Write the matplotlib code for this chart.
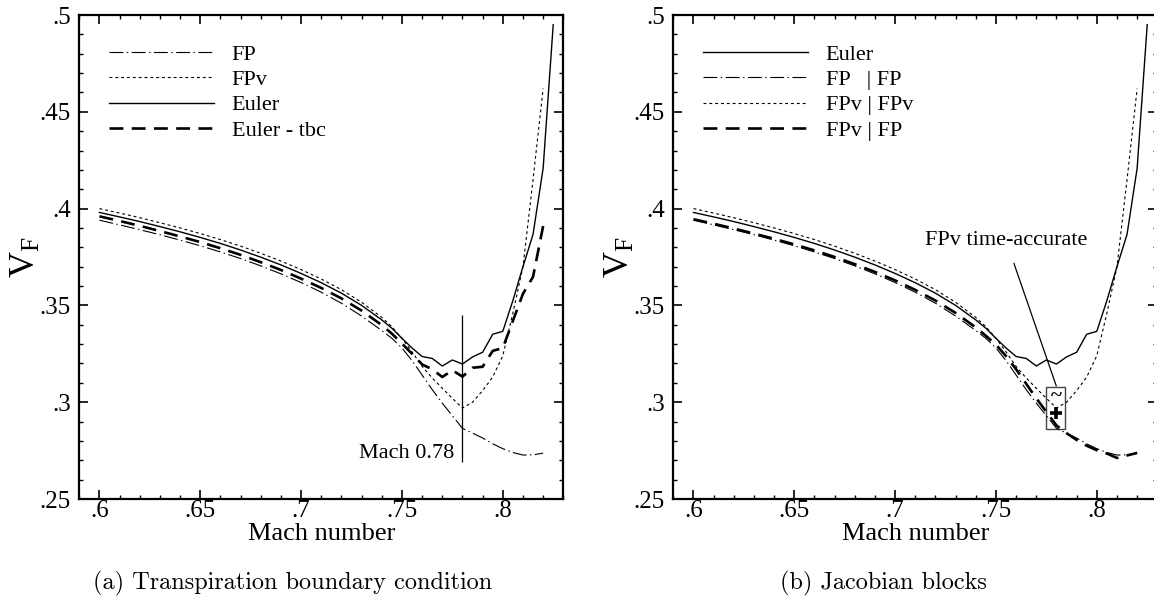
import numpy as np
import matplotlib
matplotlib.use('Agg')
import matplotlib.pyplot as plt
from matplotlib.ticker import FixedLocator, MultipleLocator
from matplotlib.patches import Rectangle

plt.rcParams['font.family'] = ['Liberation Serif', 'DejaVu Serif']
plt.rcParams['mathtext.fontset'] = 'custom'
plt.rcParams['mathtext.rm'] = 'Liberation Serif'
plt.rcParams['mathtext.it'] = 'Liberation Serif:italic'
plt.rcParams['lines.scale_dashes'] = False

nan = np.nan
mach = [0.60, 0.61, 0.62, 0.63, 0.64, 0.65, 0.66, 0.67, 0.68, 0.69, 0.70,
        0.71, 0.72, 0.73, 0.74, 0.745, 0.75, 0.755, 0.76, 0.765, 0.77,
        0.775, 0.78, 0.785, 0.79, 0.795, 0.80, 0.805, 0.81, 0.815, 0.82, 0.825]

euler = [0.3980, 0.3957, 0.3933, 0.3907, 0.3880, 0.3851, 0.3820, 0.3786, 0.3749,
         0.3709, 0.3665, 0.3617, 0.3563, 0.3500, 0.3425, 0.3382, 0.3330, 0.3280,
         0.3236, 0.3226, 0.3187, 0.3218, 0.3197, 0.3234, 0.3258, 0.3351, 0.3366,
         0.3525, 0.3700, 0.3867, 0.4208, 0.4950]

euler_tbc = [0.3960, 0.3936, 0.3911, 0.3884, 0.3856, 0.3827, 0.3795, 0.3761, 0.3723,
             0.3683, 0.3638, 0.3590, 0.3536, 0.3473, 0.3398, 0.3354, 0.3303, 0.3250,
             0.3195, 0.3170, 0.3130, 0.3165, 0.3132, 0.3178, 0.3183, 0.3265, 0.3280,
             0.3420, 0.3560, 0.3648, 0.3910, nan]

fpv = [0.4000, 0.3977, 0.3953, 0.3927, 0.3900, 0.3871, 0.3840, 0.3806, 0.3769,
       0.3729, 0.3685, 0.3636, 0.3581, 0.3516, 0.3438, 0.3390, 0.3330, 0.3260,
       0.3185, 0.3125, 0.3072, 0.3020, 0.2970, 0.3000, 0.3060, 0.3130, 0.3240,
       0.3460, 0.3700, 0.4150, 0.4620, nan]

fp = [0.3940, 0.3916, 0.3891, 0.3865, 0.3837, 0.3808, 0.3776, 0.3742, 0.3704,
      0.3663, 0.3618, 0.3568, 0.3511, 0.3445, 0.3370, 0.3330, 0.3280, 0.3215,
      0.3140, 0.3065, 0.2995, 0.2930, 0.2865, 0.2840, 0.2815, 0.2785, 0.2760,
      0.2740, 0.2727, 0.2728, 0.2737, nan]

fpv_fp = [0.3945, 0.3922, 0.3897, 0.3871, 0.3844, 0.3815, 0.3784, 0.3750, 0.3713,
          0.3673, 0.3629, 0.3580, 0.3525, 0.3461, 0.3386, 0.3343, 0.3297, 0.3238,
          0.3170, 0.3095, 0.3020, 0.2950, 0.2880, 0.2840, 0.2805, 0.2775, 0.2752,
          0.2735, 0.2712, 0.2725, 0.2738, nan]

x_ticks = [0.6, 0.65, 0.7, 0.75, 0.8]
x_tick_labels = ['.6', '.65', '.7', '.75', '.8']
y_ticks = [0.25, 0.3, 0.35, 0.4, 0.45, 0.5]
y_tick_labels = ['.25', '.3', '.35', '.4', '.45', '.5']

mark_mach = 0.78
mark_range = [0.269, 0.345]
ta_mach = 0.78
ta_plus = 0.2943
ta_tilde = 0.3025

ST_FP = dict(color='black', lw=0.8, ls=(0, (10, 2.5, 1, 2.5)))
ST_FPV = dict(color='black', lw=0.8, ls=(0, (2.1, 2.1)))
ST_EU = dict(color='black', lw=1.0, ls='-')
ST_TBC = dict(color='black', lw=1.9, ls=(0, (10, 6)))

W, H = 1154, 597
fig = plt.figure(figsize=(W / 100, H / 100), dpi=100)
axA = fig.add_axes([79.3 / W, 98 / H, 484 / W, 484 / H])
axB = fig.add_axes([673.3 / W, 98 / H, 484 / W, 484 / H])


def style(ax):
    ax.set_xlim(0.59, 0.83)
    ax.set_ylim(0.25, 0.5)
    ax.xaxis.set_major_locator(FixedLocator(x_ticks))
    ax.set_xticklabels(x_tick_labels)
    ax.yaxis.set_major_locator(FixedLocator(y_ticks))
    ax.set_yticklabels(y_tick_labels)
    ax.xaxis.set_minor_locator(MultipleLocator(0.01))
    ax.yaxis.set_minor_locator(MultipleLocator(0.01))
    ax.tick_params(which='both', direction='in', top=True, right=True,
                   labelsize=18, width=1.2)
    ax.tick_params(which='major', length=6.5)
    ax.tick_params(which='minor', length=3.2, width=1.0)
    ax.tick_params(axis='x', pad=1)
    ax.tick_params(axis='y', pad=6)
    for s in ax.spines.values():
        s.set_linewidth(1.6)
    ax.set_xlabel('Mach number', fontsize=19)
    ax.xaxis.set_label_coords(0.5, -0.073)
    ax.xaxis.label.set_va('center')
    ax.set_ylabel(r'$\mathrm{V}_{\mathrm{F}}$', fontsize=26)
    ax.yaxis.set_label_coords(-0.11, 0.5)
    ax.yaxis.label.set_va('center')


def legend(ax):
    ax.legend(loc='upper left', bbox_to_anchor=(0.062, 0.94), frameon=False,
              fontsize=16, handlelength=4.7, handletextpad=0.8,
              labelspacing=0.22, borderpad=0, borderaxespad=0)


# Panel (a)
axA.plot(mach, fp, label='FP', **ST_FP)
axA.plot(mach, fpv, label='FPv', **ST_FPV)
axA.plot(mach, euler, label='Euler', **ST_EU)
axA.plot(mach, euler_tbc, label='Euler - tbc', **ST_TBC)
axA.vlines(mark_mach, mark_range[0], mark_range[1], color='black', lw=0.9)
axA.text(0.7757, 0.2736, 'Mach 0.78', fontsize=16, ha='right', va='center')
style(axA)
legend(axA)

# Panel (b)
axB.plot(mach, euler, label='Euler', **ST_EU)
axB.plot(mach, fp, label='FP   | FP', **ST_FP)
axB.plot(mach, fpv, label='FPv | FPv', **ST_FPV)
axB.plot(mach, fpv_fp, label='FPv | FP', **ST_TBC)
axB.add_patch(Rectangle((0.775, 0.2859), 0.0092, 0.0221, fill=False,
                        edgecolor='#444444', lw=1.0))
axB.plot([ta_mach], [ta_plus], marker='+', ms=9, mew=2.6, color='black', ls='none')
axB.text(ta_mach, ta_tilde, '~', fontsize=15, fontweight='bold',
         ha='center', va='center')
axB.annotate('FPv time-accurate', xy=(0.7799, 0.3084), xytext=(0.755, 0.3835),
             fontsize=16, ha='center', va='center',
             arrowprops=dict(arrowstyle='-', color='black', lw=0.9,
                             shrinkA=8, shrinkB=0))
style(axB)
legend(axB)

fig.text(293 / W, 1 - 583 / H, '(a) Transpiration boundary condition',
         fontfamily='cmr10', fontsize=17.5, ha='center', va='center')
fig.text(883 / W, 1 - 583 / H, '(b) Jacobian blocks',
         fontfamily='cmr10', fontsize=17.5, ha='center', va='center')

fig.savefig('out.png', dpi=100)
